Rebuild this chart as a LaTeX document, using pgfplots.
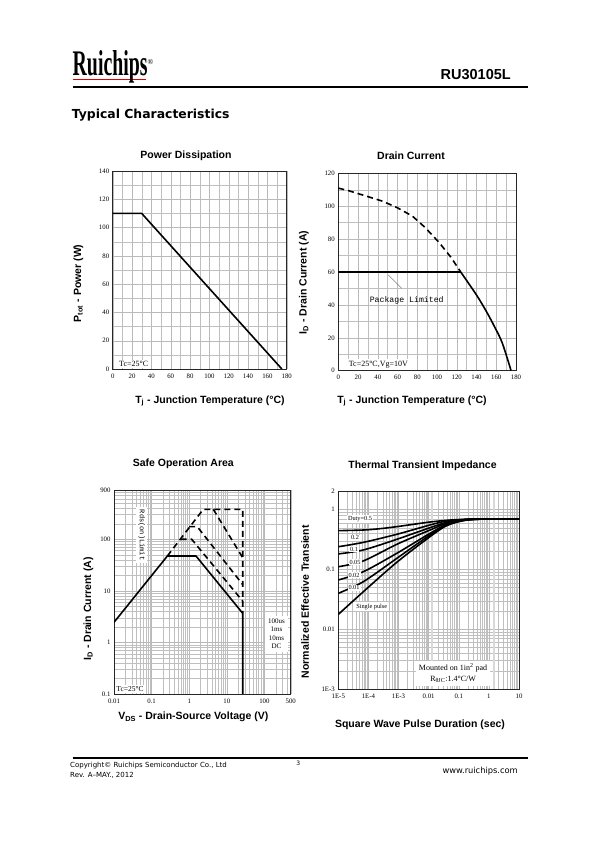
\documentclass[border=0pt]{standalone}
\usepackage{fontspec}
\setmainfont{Liberation Serif}
\newfontfamily\arial{Liberation Sans}
\newfontfamily\verd{DejaVu Sans}
\newfontfamily\mono{Liberation Mono}
\usepackage{pgfplots}
\pgfplotsset{compat=1.18}
\pgfplotsset{
  ds/.style={
    scale only axis, anchor=south west,
    axis line style={black!85, line width=0.5pt},
    grid=both,
    major grid style={gray!55, line width=0.4pt},
    minor grid style={gray!50, line width=0.35pt},
    major tick length=0pt, minor tick length=0pt,
    /pgf/number format/assume math mode=true,
    tick label style={font=\fontsize{6.8}{7}\selectfont},
    xticklabel style={yshift=-1pt},
  },
  curve/.style={black, line width=1.6pt, line join=round},
  dcurve/.style={black, line width=1.6pt, dash pattern=on 6pt off 4pt},
}
\newcommand{\lab}{\arial\bfseries\fontsize{10.5}{12}\selectfont}
\begin{document}
\begin{tikzpicture}
\path[use as bounding box, fill=white] (0,0) rectangle (598pt,842pt);

% ---------- header ----------
\draw[red!85!black, line width=1pt] (72.7pt,762.3pt) -- (146pt,762.3pt);
\node[anchor=base west, inner sep=0] at (72.5pt,766.5pt) {\scalebox{0.55}[1]{\fontsize{36}{36}\selectfont\bfseries Ruichips}};
\node[inner sep=0] at (150.5pt,780pt) {\fontsize{7.5}{7.5}\selectfont ®};
\node[anchor=base east, inner sep=0] at (511pt,762.7pt) {\arial\bfseries\fontsize{14.5}{15}\selectfont RU30105L};
\draw[line width=2pt] (72.7pt,754.7pt) -- (528.3pt,754.7pt);
\node[anchor=base west, inner sep=0] at (71.7pt,723.5pt) {\verd\bfseries\fontsize{12.4}{13}\selectfont Typical Characteristics};

% ---------- footer ----------
\draw[line width=2pt] (72.7pt,83.7pt) -- (528.3pt,83.7pt);
\node[anchor=base west, inner sep=0] at (70pt,74pt) {\verd\fontsize{7}{8}\selectfont Copyright© Ruichips Semiconductor Co., Ltd};
\node[anchor=base west, inner sep=0] at (70pt,64.5pt) {\verd\fontsize{7}{8}\selectfont Rev. A–MAY., 2012};
\node[anchor=base, inner sep=0] at (298.3pt,76pt) {\verd\fontsize{6}{7}\selectfont 3};
\node[anchor=base east, inner sep=0] at (518pt,68pt) {\verd\fontsize{8.3}{9}\selectfont www.ruichips.com};

% ---------- titles and labels ----------
\node at (186pt,686.2pt) {\lab Power Dissipation};
\node at (411pt,686.3pt) {\lab Drain Current};
\node at (183.3pt,378.7pt) {\lab Safe Operation Area};
\node at (422.5pt,376pt) {\lab Thermal Transient Impedance};

\node[rotate=90] at (78.3pt,558.7pt) {\lab P\textsubscript{tot} - Power (W)};
\node at (210pt,441pt) {\lab T\textsubscript{j} - Junction Temperature (°C)};
\node[rotate=90] at (304pt,559.5pt) {\lab I\textsubscript{D} - Drain Current (A)};
\node at (412pt,441pt) {\lab T\textsubscript{j} - Junction Temperature (°C)};
\node[rotate=90] at (88.3pt,233pt) {\lab I\textsubscript{D} - Drain Current (A)};
\node at (193.3pt,125.3pt) {\lab V\textsubscript{DS} - Drain-Source Voltage (V)};
\node[rotate=90] at (305pt,240.3pt) {\lab Normalized Effective Transient};
\node at (420pt,117pt) {\lab Square Wave Pulse Duration (sec)};

% ---------- Power Dissipation ----------
\begin{axis}[ds, at={(112.7pt,473pt)}, width=174pt, height=198pt,
  xmin=0, xmax=180, ymin=0, ymax=140,
  xtick={0,20,...,180}, ytick={0,20,...,140},
  minor x tick num=1, minor y tick num=1]
\addplot[curve] coordinates {(0,110) (30,110) (175,0)};
\node[fill=white, inner sep=1.5pt, anchor=south west, font=\fontsize{8}{8}\selectfont] at (axis cs:5,0.6) {Tc=25°C};
\end{axis}

% ---------- Drain Current ----------
\begin{axis}[ds, at={(338.3pt,471.3pt)}, width=177.7pt, height=197.4pt,
  xmin=0, xmax=180, ymin=0, ymax=120,
  xtick={0,20,...,180}, ytick={0,20,...,120},
  minor x tick num=1, minor y tick num=1]
\addplot[dcurve] coordinates {(0,111) (10,109.5) (29,106) (45,103) (60,99) (75,94) (88,87) (102,78) (114,69) (124,60)};
\addplot[curve] coordinates {(0,60) (124,60)};
\addplot[curve, smooth] coordinates {(124,60) (140,46) (150,36) (158,27) (166,17) (175,0)};
\draw[gray!70!black, line width=0.4pt] (axis cs:50.6,58.2) -- (axis cs:64.2,50.1);
\node[font=\mono\fontsize{8.2}{9}\selectfont] at (axis cs:69.3,42.9) {Package Limited};
\node[fill=white, inner sep=1.5pt, anchor=south west, font=\fontsize{8}{8}\selectfont] at (axis cs:9,0.6) {Tc=25°C,Vg=10V};
\end{axis}

% ---------- Safe Operation Area ----------
\begin{loglogaxis}[ds, at={(114pt,148pt)}, width=176.7pt, height=204pt,
  xmin=0.01, xmax=500, ymin=0.1, ymax=900,
  xtick={0.01,0.1,1,10,100,500}, xticklabels={0.01,0.1,1,10,100,500},
  ytick={0.1,1,10,100,900}, yticklabels={0.1,1,10,100,900},
  minor xtick={0.02,0.03,0.04,0.05,0.06,0.07,0.08,0.09,0.2,0.3,0.4,0.5,0.6,0.7,0.8,0.9,2,3,4,5,6,7,8,9,20,30,40,50,60,70,80,90,200,300,400},
  minor ytick={0.2,0.3,0.4,0.5,0.6,0.7,0.8,0.9,2,3,4,5,6,7,8,9,20,30,40,50,60,70,80,90,200,300,400,500,600,700,800}]
\addplot[dcurve] coordinates {(0.262,47.2) (2.37,380) (26.5,380) (26.5,3.66)};
\addplot[dcurve] coordinates {(0.594,100) (1.16,100) (26.5,6.3)};
\addplot[dcurve] coordinates {(1.0,175) (1.64,175) (26.5,13.2)};
\addplot[dcurve] coordinates {(4.37,380) (26.5,43.8)};
\addplot[curve] coordinates {(0.01,2.45) (0.262,47.2) (1.52,47.2) (26.5,3.66) (26.5,0.1)};
\node[fill=white, rotate=-90, inner sep=2.5pt, font=\mono\fontsize{7}{8}\selectfont] at (axis cs:0.0546,120) {Rds(on)Limit};
\node[fill=white, align=center, inner sep=3pt, font=\fontsize{7}{8.5}\selectfont] at (axis cs:210,1.46) {100us\\1ms\\10ms\\DC};
\node[fill=white, inner sep=1.5pt, anchor=south west, font=\fontsize{7.5}{8}\selectfont] at (axis cs:0.0105,0.103) {Tc=25°C};
\end{loglogaxis}

% ---------- Thermal Transient Impedance ----------
\begin{loglogaxis}[ds, at={(338.3pt,153pt)}, width=180.7pt, height=197.3pt,
  xmin=1e-5, xmax=10, ymin=1e-3, ymax=2,
  xtick={1e-5,1e-4,1e-3,0.01,0.1,1,10}, xticklabels={1E-5,1E-4,1E-3,0.01,0.1,1,10},
  ytick={1e-3,0.01,0.1,1,2}, yticklabels={1E-3,0.01,0.1,1,2},
  minor xtick={2e-5,3e-5,4e-5,5e-5,6e-5,7e-5,8e-5,9e-5,2e-4,3e-4,4e-4,5e-4,6e-4,7e-4,8e-4,9e-4,2e-3,3e-3,4e-3,5e-3,6e-3,7e-3,8e-3,9e-3,0.02,0.03,0.04,0.05,0.06,0.07,0.08,0.09,0.2,0.3,0.4,0.5,0.6,0.7,0.8,0.9,2,3,4,5,6,7,8,9},
  minor ytick={2e-3,3e-3,4e-3,5e-3,6e-3,7e-3,8e-3,9e-3,0.02,0.03,0.04,0.05,0.06,0.07,0.08,0.09,0.2,0.3,0.4,0.5,0.6,0.7,0.8,0.9}]
\addplot[gray!30, line width=2pt] coordinates {(0.0134,1e-3) (0.0134,2)};
\addplot[gray!30, line width=2pt] coordinates {(1.49,1e-3) (1.49,2)};
\addplot[curve, smooth] coordinates {(1e-5,0.446) (6.8e-5,0.457) (2.43e-4,0.481) (8.7e-4,0.520) (3.11e-3,0.569) (0.0111,0.622) (0.0398,0.664) (0.1426,0.690) (0.5,0.698) (10,0.698)};
\addplot[curve, smooth] coordinates {(1e-5,0.240) (6.8e-5,0.284) (8.7e-4,0.387) (0.0111,0.555) (0.0398,0.647) (0.1426,0.681) (0.5,0.696) (10,0.698)};
\addplot[curve, smooth] coordinates {(1e-5,0.182) (6.8e-5,0.212) (8.7e-4,0.319) (0.0111,0.500) (0.0398,0.615) (0.1426,0.681) (0.5,0.696) (10,0.698)};
\addplot[curve, smooth] coordinates {(1e-5,0.111) (6.8e-5,0.139) (8.7e-4,0.263) (0.0111,0.457) (0.0398,0.592) (0.1426,0.672) (0.5,0.695) (10,0.698)};
\addplot[curve, smooth] coordinates {(1e-5,0.0667) (6.8e-5,0.0918) (8.7e-4,0.186) (0.0111,0.402) (0.0398,0.569) (0.1426,0.664) (0.5,0.694) (10,0.698)};
\addplot[curve, smooth] coordinates {(1e-5,0.0399) (6.8e-5,0.0625) (8.7e-4,0.153) (0.0111,0.378) (0.0398,0.555) (0.1426,0.664) (0.5,0.694) (10,0.698)};
\addplot[curve, smooth] coordinates {(1e-5,0.0177) (6.8e-5,0.0425) (8.7e-4,0.1315) (0.0111,0.354) (0.0398,0.541) (0.1426,0.655) (0.5,0.693) (10,0.698)};
\node[fill=white, inner sep=1pt, font=\fontsize{6.3}{7}\selectfont] at (axis cs:5.26e-5,0.70) {Duty=0.5};
\node[fill=white, inner sep=1pt, font=\fontsize{6.3}{7}\selectfont] at (axis cs:3.59e-5,0.34) {0.2};
\node[fill=white, inner sep=1pt, font=\fontsize{6.3}{7}\selectfont] at (axis cs:3.33e-5,0.217) {0.1};
\node[fill=white, inner sep=1pt, font=\fontsize{6.3}{7}\selectfont] at (axis cs:3.59e-5,0.132) {0.05};
\node[fill=white, inner sep=1pt, font=\fontsize{6.3}{7}\selectfont] at (axis cs:3.33e-5,0.0807) {0.02};
\node[fill=white, inner sep=1pt, font=\fontsize{6.3}{7}\selectfont] at (axis cs:3.33e-5,0.0496) {0.01};
\node[fill=white, inner sep=1.5pt, font=\fontsize{6.3}{7}\selectfont] at (axis cs:1.29e-4,0.0238) {Single pulse};
\node[fill=white, align=center, inner sep=3pt, font=\fontsize{8}{11}\selectfont] at (axis cs:0.0647,1.83e-3) {Mounted on 1in\textsuperscript{2} pad\\R\textsubscript{θJC}:1.4°C/W};
\end{loglogaxis}
\end{tikzpicture}
\end{document}
